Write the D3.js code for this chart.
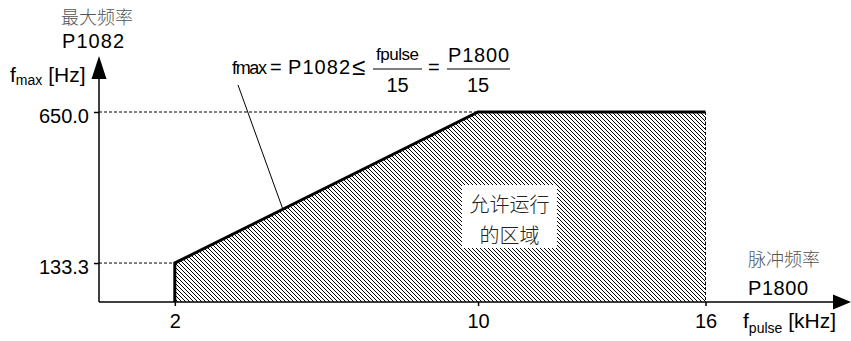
<!DOCTYPE html>
<html>
<head>
<meta charset="utf-8">
<script src="https://cdn.jsdelivr.net/npm/d3@7"></script>
<style>
  body { margin: 0; background: #fff; }
  text { font-family: "Liberation Sans", Arial, sans-serif; }
  .cjk { font-family: "Noto Sans CJK SC", sans-serif; }
</style>
</head>
<body>
<div id="viz"></div>
<script>
// data
const fPulse = [2, 10, 16];          // kHz
const fMax = [133.3, 650.0, 650.0];  // Hz
const xTicks = [2, 10, 16];
const yTicks = [133.3, 650.0];
const yTickLabels = ["133.3", "650.0"];

const width = 851, height = 341;

const svg = d3.select("#viz")
  .append("svg")
  .attr("width", width)
  .attr("height", height);

const x = d3.scaleLinear().domain([0, 16]).range([99, 705.5]);
const y = d3.scaleLinear().domain([0, 650]).range([302, 112]);

// hatch pattern
const defs = svg.append("defs");
defs.append("pattern")
  .attr("id", "hatch")
  .attr("patternUnits", "userSpaceOnUse")
  .attr("width", 4).attr("height", 4)
  .append("path")
  .attr("d", "M-1,-1 L5,5 M-1,3 L1,5 M3,-1 L5,1")
  .attr("stroke", "#000")
  .attr("stroke-width", 1);

const pts = fPulse.map((f, i) => ({f: f, m: fMax[i]}));

// allowed region
svg.append("path")
  .datum(pts)
  .attr("fill", "url(#hatch)")
  .attr("d", d3.area().x(d => x(d.f)).y0(y(0)).y1(d => y(d.m)));

// dashed guides
const last = pts[pts.length - 1];
svg.append("line")
  .attr("x1", x(last.f)).attr("x2", x(last.f))
  .attr("y1", y(last.m)).attr("y2", y(0))
  .attr("stroke", "#000").attr("stroke-dasharray", "3,2");
yTicks.forEach((v, i) => {
  svg.append("line")
    .attr("x1", x(0)).attr("x2", x(fPulse[i]))
    .attr("y1", y(v)).attr("y2", y(v))
    .attr("stroke", "#000").attr("stroke-dasharray", "3,2");
});

// axes
const xAxis = svg.append("g")
  .attr("transform", "translate(0," + y(0) + ")")
  .call(d3.axisBottom(x).tickValues(xTicks).tickFormat(d3.format("d")).tickSize(4).tickPadding(8));
xAxis.select(".domain").remove();
xAxis.selectAll("line").attr("stroke", "#000").attr("stroke-width", 1.5);
xAxis.selectAll("text").attr("font-size", 20).attr("fill", "#000")
  .attr("font-family", "Liberation Sans, Arial, sans-serif");

const yAxis = svg.append("g")
  .attr("transform", "translate(" + x(0) + ",0)")
  .call(d3.axisLeft(y).tickValues(yTicks).tickFormat((d, i) => yTickLabels[i]).tickSize(5).tickPadding(5));
yAxis.select(".domain").remove();
yAxis.selectAll("line").attr("stroke", "#000").attr("stroke-width", 1.5);
yAxis.selectAll("text").attr("font-size", 20).attr("fill", "#000").attr("dy", "0.5em")
  .attr("font-family", "Liberation Sans, Arial, sans-serif");

// axis lines with arrows
svg.append("line")
  .attr("x1", x(0)).attr("x2", 836)
  .attr("y1", y(0)).attr("y2", y(0))
  .attr("stroke", "#000").attr("stroke-width", 1.5);
svg.append("path")
  .attr("d", "M833," + (y(0) - 7.5) + " L851," + y(0) + " L833," + (y(0) + 7.5) + "Z")
  .attr("fill", "#000");
svg.append("line")
  .attr("x1", x(0)).attr("x2", x(0))
  .attr("y1", y(0)).attr("y2", 75)
  .attr("stroke", "#000").attr("stroke-width", 1.5);
svg.append("path")
  .attr("d", "M" + (x(0) - 7.5) + ",79 L" + x(0) + ",56 L" + (x(0) + 7.5) + ",79Z")
  .attr("fill", "#000");

// boundary line
svg.append("path")
  .datum([{f: fPulse[0], m: 0}].concat(pts))
  .attr("fill", "none")
  .attr("stroke", "#000")
  .attr("stroke-width", 3)
  .attr("d", d3.line().x(d => x(d.f)).y(d => y(d.m)));

// leader line from formula to boundary
const lf = 4.85;
const lm = fMax[0] + (lf - fPulse[0]) / (fPulse[1] - fPulse[0]) * (fMax[1] - fMax[0]);
svg.append("line")
  .attr("x1", 238).attr("y1", 85)
  .attr("x2", x(lf)).attr("y2", y(lm))
  .attr("stroke", "#000").attr("stroke-width", 1);

// y label
svg.append("text").attr("class", "cjk").attr("x", 61).attr("y", 24)
  .attr("font-size", 18).attr("font-weight", 300).attr("fill", "#555").text("最大频率");
svg.append("text").attr("x", 62).attr("y", 48)
  .attr("font-size", 20).attr("textLength", 62).text("P1082");
const yl = svg.append("text").attr("x", 10).attr("y", 82).attr("font-size", 21);
yl.append("tspan").text("f");
yl.append("tspan").attr("font-size", 14).attr("dy", 3).text("max");
yl.append("tspan").attr("dy", -3).text(" [Hz]");

// x label
svg.append("text").attr("class", "cjk").attr("x", 748).attr("y", 266)
  .attr("font-size", 18).attr("font-weight", 300).attr("fill", "#555").text("脉冲频率");
svg.append("text").attr("x", 748).attr("y", 295)
  .attr("font-size", 20).attr("textLength", 60).text("P1800");
const xl = svg.append("text").attr("x", 743).attr("y", 328).attr("font-size", 21);
xl.append("tspan").text("f");
xl.append("tspan").attr("font-size", 14).attr("dy", 5).text("pulse");
xl.append("tspan").attr("dy", -5).text(" [kHz]");

// formula
const fm = svg.append("g");
fm.append("text").attr("x", 232).attr("y", 74).attr("font-size", 18).attr("textLength", 35).text("fmax");
fm.append("text").attr("x", 270).attr("y", 74).attr("font-size", 20).text("=");
fm.append("text").attr("x", 288).attr("y", 74).attr("font-size", 20).attr("textLength", 62).text("P1082");
fm.append("text").attr("x", 352).attr("y", 75).attr("font-size", 24).text("≤");
fm.append("line").attr("x1", 373).attr("x2", 422).attr("y1", 69).attr("y2", 69)
  .attr("stroke", "#000").attr("stroke-width", 1.2);
fm.append("text").attr("x", 376).attr("y", 60).attr("font-size", 17)
  .attr("textLength", 43).text("fpulse");
fm.append("text").attr("x", 397.5).attr("y", 92).attr("font-size", 20)
  .attr("text-anchor", "middle").text("15");
fm.append("text").attr("x", 428).attr("y", 74).attr("font-size", 20).text("=");
fm.append("line").attr("x1", 447).attr("x2", 510).attr("y1", 69).attr("y2", 69)
  .attr("stroke", "#000").attr("stroke-width", 1.2);
fm.append("text").attr("x", 448).attr("y", 62).attr("font-size", 20)
  .attr("textLength", 61).text("P1800");
fm.append("text").attr("x", 478).attr("y", 92).attr("font-size", 20)
  .attr("text-anchor", "middle").text("15");

// region label
svg.append("rect").attr("x", 462).attr("y", 185).attr("width", 95).attr("height", 63)
  .attr("fill", "#fff");
svg.append("text").attr("class", "cjk").attr("x", 509.5).attr("y", 212)
  .attr("font-size", 20).attr("font-weight", 300).attr("fill", "#222").attr("text-anchor", "middle").text("允许运行");
svg.append("text").attr("class", "cjk").attr("x", 509.5).attr("y", 243)
  .attr("font-size", 20).attr("font-weight", 300).attr("fill", "#222").attr("text-anchor", "middle").text("的区域");
</script>
</body>
</html>
